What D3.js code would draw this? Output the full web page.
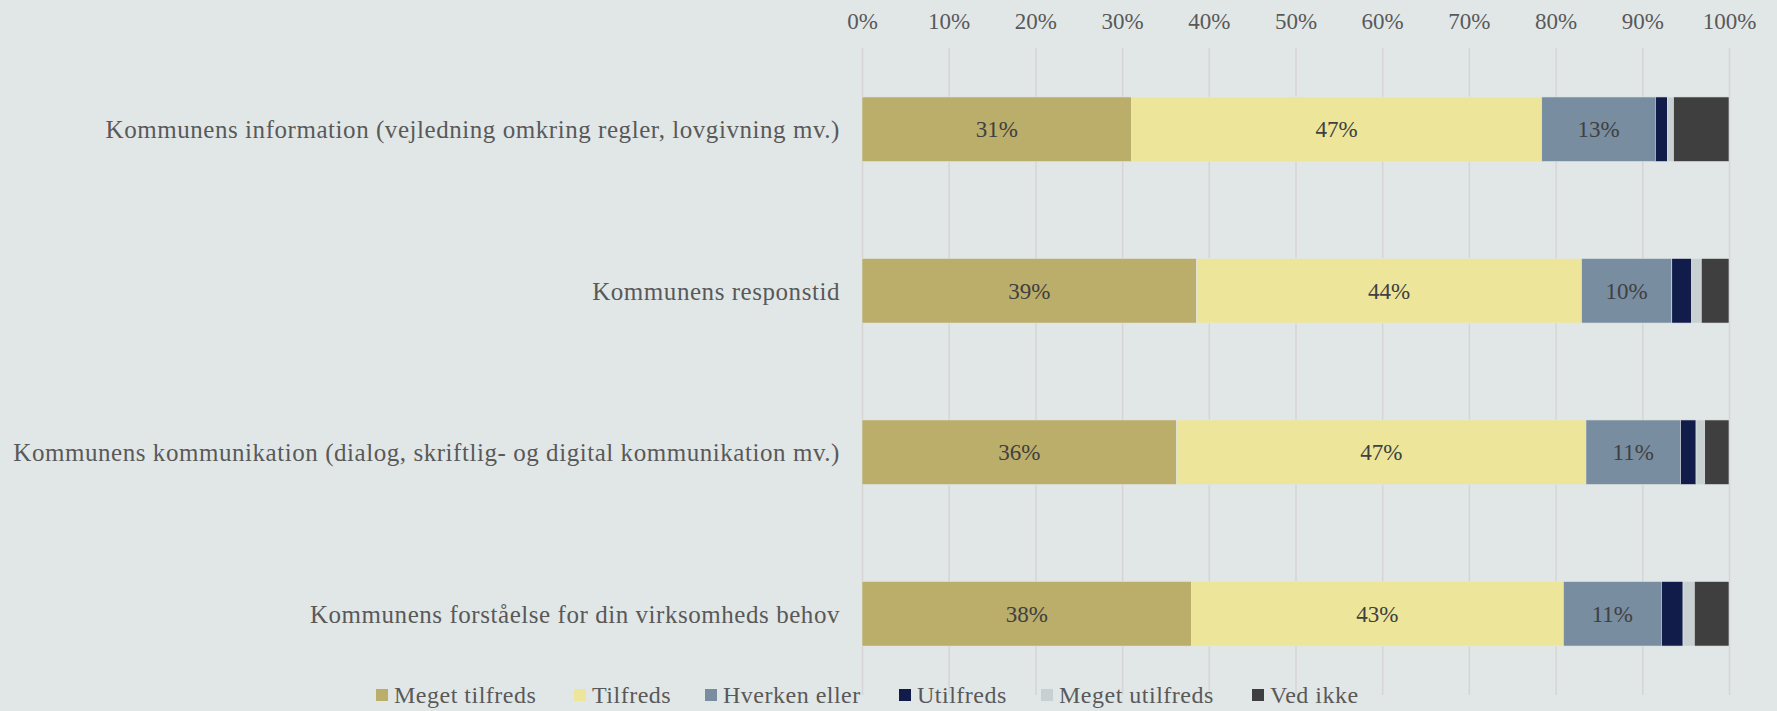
<!DOCTYPE html>
<html>
<head>
<meta charset="utf-8">
<script src="https://cdn.jsdelivr.net/npm/d3@7"></script>
<style>
  body { margin: 0; background: #e1e7e7; }
  svg { display: block; font-family: "Liberation Serif", "DejaVu Serif", serif; }
</style>
</head>
<body>
<div class="js-chart"></div>
<script>
var categories = [
  'Kommunens information (vejledning omkring regler, lovgivning mv.)',
  'Kommunens responstid',
  'Kommunens kommunikation (dialog, skriftlig- og digital kommunikation mv.)',
  'Kommunens forståelse for din virksomheds behov'
];
var seriesNames = ['Meget tilfreds', 'Tilfreds', 'Hverken eller', 'Utilfreds', 'Meget utilfreds', 'Ved ikke'];
var megetTilfreds = [31.1, 38.6, 36.3, 38.0];
var tilfreds = [47.3, 44.4, 47.2, 42.9];
var hverkenEller = [13.1, 10.4, 10.9, 11.3];
var utilfreds = [1.4, 2.3, 1.8, 2.5];
var megetUtilfreds = [0.7, 1.1, 1.0, 1.3];
var vedIkke = [6.4, 3.2, 2.8, 4.0];
var tickValues = [0, 10, 20, 30, 40, 50, 60, 70, 80, 90, 100];
var colors = ['#bbad6a', '#ede69a', '#788da0', '#121c4b', '#c8d0d2', '#3f3f3f'];

var width = 1777, height = 711;
var svg = d3.select('.js-chart').append('svg')
  .attr('width', width)
  .attr('height', height);

svg.append('rect').attr('width', width).attr('height', height).attr('fill', '#e1e7e7');

var x = d3.scaleLinear().domain([0, 100]).range([862, 1729]);
var y = d3.scaleBand().domain(categories).range([48.5, 694.5]).paddingInner(0.6).paddingOuter(0.3);

// rows of stacked data
var rows = categories.map(function(c, i) {
  return {
    cat: c,
    'Meget tilfreds': megetTilfreds[i],
    'Tilfreds': tilfreds[i],
    'Hverken eller': hverkenEller[i],
    'Utilfreds': utilfreds[i],
    'Meget utilfreds': megetUtilfreds[i],
    'Ved ikke': vedIkke[i]
  };
});
var stack = d3.stack().keys(seriesNames)(rows);

// gridlines
svg.append('g').selectAll('line')
  .data(tickValues)
  .enter().append('line')
  .attr('x1', function(d) { return x(d) + 0.5; })
  .attr('x2', function(d) { return x(d) + 0.5; })
  .attr('y1', 48)
  .attr('y2', 695)
  .attr('stroke', '#d6d4d4')
  .attr('stroke-width', 1.5);

// top axis
var axis = svg.append('g')
  .attr('transform', 'translate(0,29)')
  .call(d3.axisTop(x).tickValues(tickValues).tickSize(0).tickPadding(0)
    .tickFormat(function(d) { return d + '%'; }));
axis.select('.domain').remove();
axis.selectAll('text')
  .attr('font-family', '"Liberation Serif", serif')
  .attr('font-size', 23)
  .attr('fill', '#595959');

// bars
var groups = svg.append('g').selectAll('g')
  .data(stack)
  .enter().append('g')
  .attr('fill', function(d, i) { return colors[i]; });

groups.selectAll('rect')
  .data(function(d) { return d; })
  .enter().append('rect')
  .attr('x', function(d) { return x(d[0]); })
  .attr('width', function(d) { return x(d[1]) - x(d[0]); })
  .attr('y', function(d) { return y(d.data.cat); })
  .attr('height', y.bandwidth())
  .attr('stroke', '#e1e7e7')
  .attr('stroke-width', 0.6);

// data labels
groups.selectAll('text')
  .data(function(d) { return d.filter(function(s) { return s[1] - s[0] >= 5; }); })
  .enter().append('text')
  .attr('x', function(d) { return (x(d[0]) + x(d[1])) / 2; })
  .attr('y', function(d) { return y(d.data.cat) + y.bandwidth() / 2; })
  .attr('dy', '0.35em')
  .attr('text-anchor', 'middle')
  .attr('font-size', 23)
  .attr('fill', '#404040')
  .text(function(d) { return Math.round(d[1] - d[0]) + '%'; });

// category labels
svg.append('g').selectAll('text')
  .data(categories)
  .enter().append('text')
  .attr('x', 840)
  .attr('y', function(d) { return y(d) + y.bandwidth() / 2; })
  .attr('dy', '0.35em')
  .attr('text-anchor', 'end')
  .attr('font-size', 25)
  .attr('letter-spacing', 0.55)
  .attr('fill', '#595959')
  .text(function(d) { return d; });

// legend
var legendX = [376, 574, 705, 899, 1041, 1252];
var legend = svg.append('g').selectAll('g')
  .data(seriesNames)
  .enter().append('g')
  .attr('transform', function(d, i) { return 'translate(' + legendX[i] + ',689)'; });
legend.append('rect')
  .attr('width', 12).attr('height', 12)
  .attr('fill', function(d, i) { return colors[i]; });
legend.append('text')
  .attr('x', 18).attr('y', 6)
  .attr('dy', '0.35em')
  .attr('font-size', 24)
  .attr('letter-spacing', 0.5)
  .attr('fill', '#595959')
  .text(function(d) { return d; });
</script>
</body>
</html>
